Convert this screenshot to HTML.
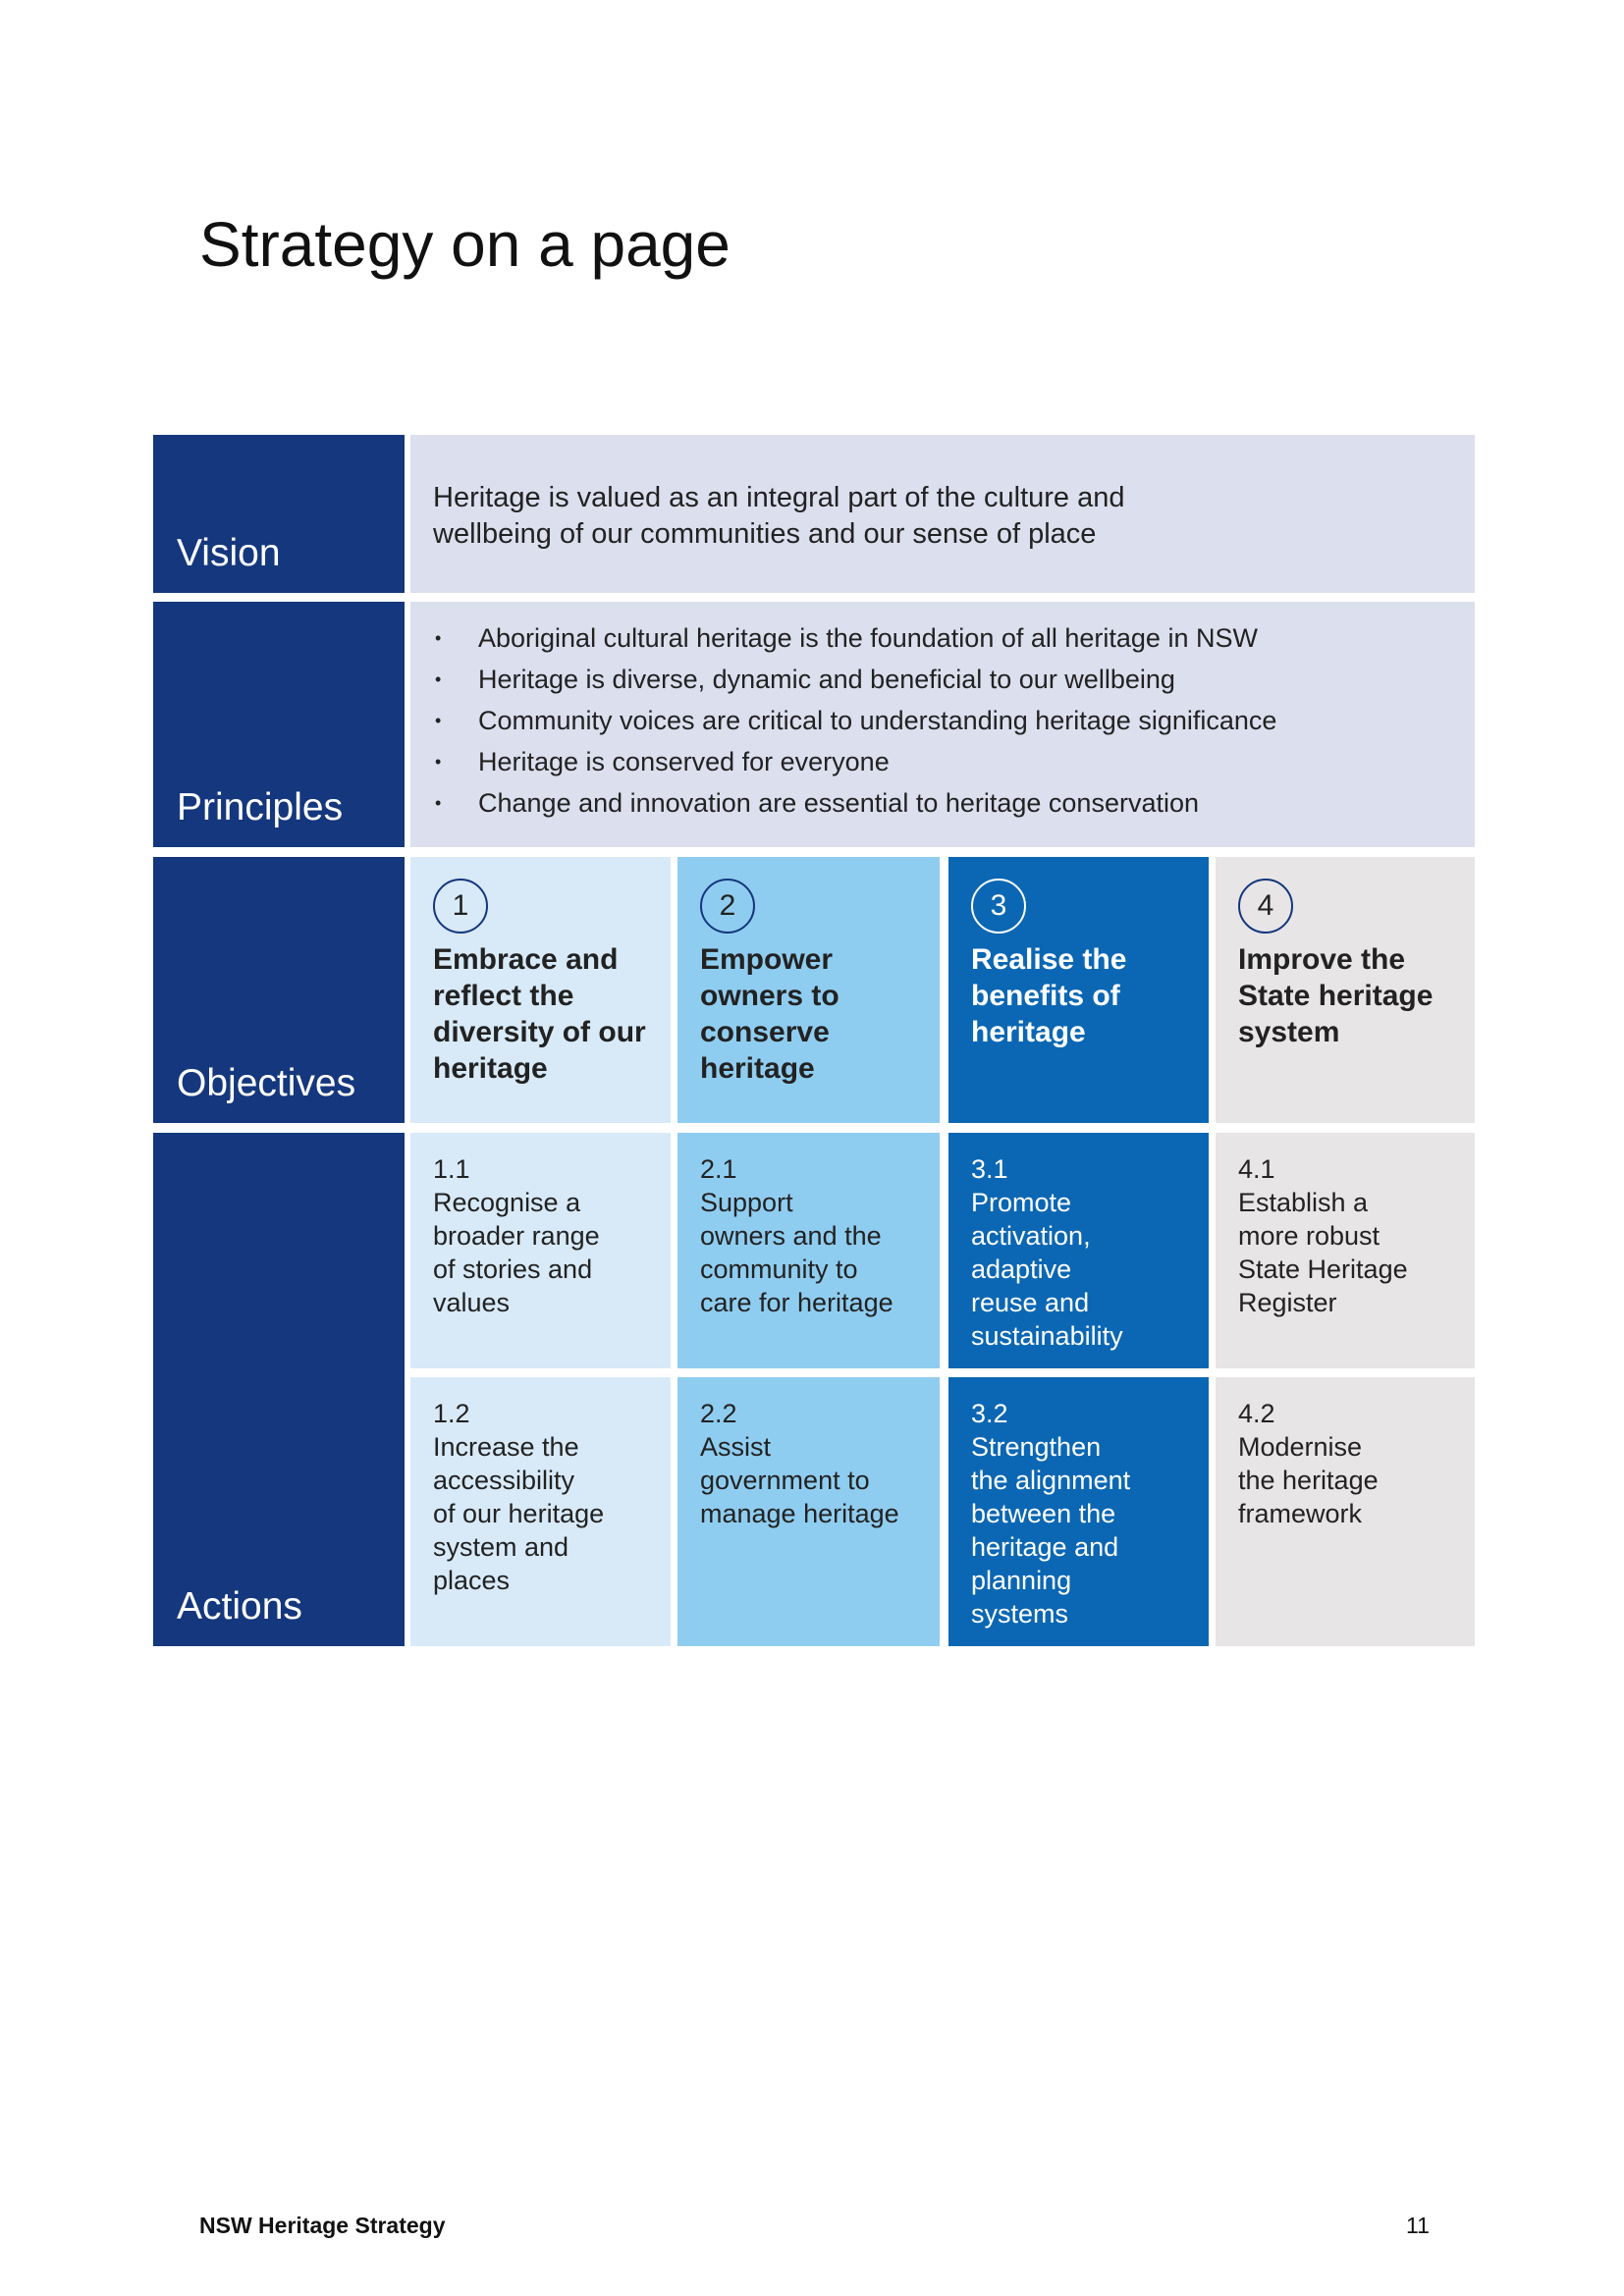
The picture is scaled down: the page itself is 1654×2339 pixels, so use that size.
<!DOCTYPE html>
<html><head><meta charset="utf-8"><style>
*{margin:0;padding:0;box-sizing:border-box}
body{width:1654px;height:2339px;background:#fff;position:relative;font-family:"Liberation Sans",sans-serif;color:#222}
.a{position:absolute}
.lab{background:#14377d;color:#fff;font-size:39px;padding:0 0 18px 24px;display:flex;align-items:flex-end}
.c1{background:#d8eaf8;color:#222}.c2{background:#8fcdf0;color:#222}.c3{background:#0b67b3;color:#fff}.c4{background:#e8e5e6;color:#222}
.obj{padding:22px 0 0 23px}
.circ{width:56px;height:56px;border:2px solid #14377d;border-radius:50%;font-size:30px;display:flex;align-items:center;justify-content:center;margin-bottom:8px}
.c3 .circ{border-color:#fff}
.ot{font-size:30px;font-weight:bold;line-height:37px}
.act{padding:20px 0 0 23px;font-size:27px;line-height:34px}
.pr div{position:relative;padding-left:44px;font-size:27px;line-height:42px}
.pr div:before{content:"•";position:absolute;left:0;font-size:18px}
</style></head><body>
<div class="a" style="left:203px;top:212px;font-size:64px;color:#111">Strategy on a page</div>

<div class="a lab" style="left:156px;top:443px;width:256px;height:161px">Vision</div>
<div class="a" style="left:418px;top:443px;width:1084px;height:161px;background:#dcdfee;padding:46px 0 0 23px;font-size:29px;line-height:37px">Heritage is valued as an integral part of the culture and<br>wellbeing of our communities and our sense of place</div>

<div class="a lab" style="left:156px;top:613px;width:256px;height:250px">Principles</div>
<div class="a pr" style="left:418px;top:613px;width:1084px;height:250px;background:#dcdfee;padding:16px 0 0 25px">
<div>Aboriginal cultural heritage is the foundation of all heritage in NSW</div>
<div>Heritage is diverse, dynamic and beneficial to our wellbeing</div>
<div>Community voices are critical to understanding heritage significance</div>
<div>Heritage is conserved for everyone</div>
<div>Change and innovation are essential to heritage conservation</div>
</div>

<div class="a lab" style="left:156px;top:873px;width:256px;height:271px">Objectives</div>
<div class="a obj c1" style="left:418px;top:873px;width:265px;height:271px"><div class="circ">1</div><div class="ot">Embrace and<br>reflect the<br>diversity of our<br>heritage</div></div>
<div class="a obj c2" style="left:690px;top:873px;width:267px;height:271px"><div class="circ">2</div><div class="ot">Empower<br>owners to<br>conserve<br>heritage</div></div>
<div class="a obj c3" style="left:966px;top:873px;width:265px;height:271px"><div class="circ">3</div><div class="ot">Realise the<br>benefits of<br>heritage</div></div>
<div class="a obj c4" style="left:1238px;top:873px;width:264px;height:271px"><div class="circ">4</div><div class="ot">Improve the<br>State heritage<br>system</div></div>

<div class="a lab" style="left:156px;top:1154px;width:256px;height:523px">Actions</div>
<div class="a act c1" style="left:418px;top:1154px;width:265px;height:240px">1.1<br>Recognise a<br>broader range<br>of stories and<br>values</div>
<div class="a act c2" style="left:690px;top:1154px;width:267px;height:240px">2.1<br>Support<br>owners and the<br>community to<br>care for heritage</div>
<div class="a act c3" style="left:966px;top:1154px;width:265px;height:240px">3.1<br>Promote<br>activation,<br>adaptive<br>reuse and<br>sustainability</div>
<div class="a act c4" style="left:1238px;top:1154px;width:264px;height:240px">4.1<br>Establish a<br>more robust<br>State Heritage<br>Register</div>
<div class="a act c1" style="left:418px;top:1403px;width:265px;height:274px">1.2<br>Increase the<br>accessibility<br>of our heritage<br>system and<br>places</div>
<div class="a act c2" style="left:690px;top:1403px;width:267px;height:274px">2.2<br>Assist<br>government to<br>manage heritage</div>
<div class="a act c3" style="left:966px;top:1403px;width:265px;height:274px">3.2<br>Strengthen<br>the alignment<br>between the<br>heritage and<br>planning<br>systems</div>
<div class="a act c4" style="left:1238px;top:1403px;width:264px;height:274px">4.2<br>Modernise<br>the heritage<br>framework</div>

<div class="a" style="left:203px;top:2254px;font-size:23px;font-weight:bold;color:#111">NSW Heritage Strategy</div>
<div class="a" style="left:1432px;top:2254px;font-size:23px;color:#111">11</div>
</body></html>
